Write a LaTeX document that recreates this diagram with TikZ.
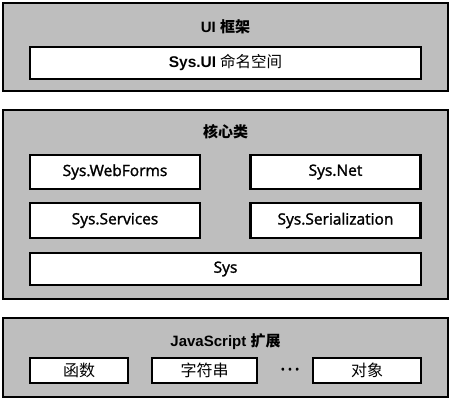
\documentclass[tikz,border=0pt]{standalone}
\usepackage{fontspec}
\setmainfont{Open Sans}[FakeBold=1.6]
\newfontfamily\cjk{Noto Sans CJK SC}
\newfontfamily\headfont{Liberation Sans}
\usetikzlibrary{positioning}
\definecolor{panelgray}{HTML}{BEBEBE}

\begin{document}
\begin{tikzpicture}[
    x=1pt, y=-1pt,
    panel/.style={draw=black,fill=panelgray,line width=2.2pt,inner sep=0pt,
                  minimum width=445pt},
    head/.style={font=\headfont\bfseries\fontsize{15}{17}\selectfont},
    mod/.style={draw=black,fill=white,line width=2.2pt,inner sep=0pt,
                minimum height=34pt,minimum width=170pt,
                font=\fontsize{15.5}{18}\selectfont},
    wide/.style={mod,minimum width=391pt,minimum height=32pt},
    ext/.style={mod,minimum height=25pt,font=\cjk\fontsize{16}{18}\selectfont}
  ]
  \useasboundingbox (0,0) rectangle (452,402);

  % UI layer
  \node[panel,minimum height=88pt] (uilayer) at (225.5,47) {};
  \node[head] (uihead) at (225.5,27) {UI {\cjk\bfseries 框架}};
  \node[wide] (sysui) at (225.5,63)
    {{\headfont\bfseries Sys.UI} {\cjk 命名空间}};

  % core classes
  \node[panel,minimum height=189pt] (core) at (225.5,204.5) {};
  \node[head] (corehead) at (225.5,132) {\cjk\bfseries 核心类};
  \node[mod] (webforms) at (115,172) {Sys.WebForms};
  \node[mod] (net) at (335.5,172) {Sys.Net};
  \node[mod,minimum height=35pt] (services) at (115,220.5) {Sys.Services};
  \node[mod,minimum height=35pt] (serial) at (335.5,220.5) {Sys.Serialization};
  \node[wide] (sys) at (225.5,269) {Sys};

  % JavaScript extensions
  \node[panel,minimum height=79pt] (jslayer) at (225.5,357.5) {};
  \node[head] (jshead) at (225.5,342) {JavaScript {\cjk\bfseries 扩展}};
  \node[ext,minimum width=98pt] (func) at (79,370.5) {函数};
  \node[ext,minimum width=105pt] (str) at (204.5,370.5) {字符串};
  \node[font=\fontsize{11}{12}\selectfont] (dots) at (290,370.5)
    {\textbullet\hspace{3pt}\textbullet\hspace{3pt}\textbullet};
  \node[ext,minimum width=108pt] (obj) at (367,370.5) {对象};
\end{tikzpicture}
\end{document}
